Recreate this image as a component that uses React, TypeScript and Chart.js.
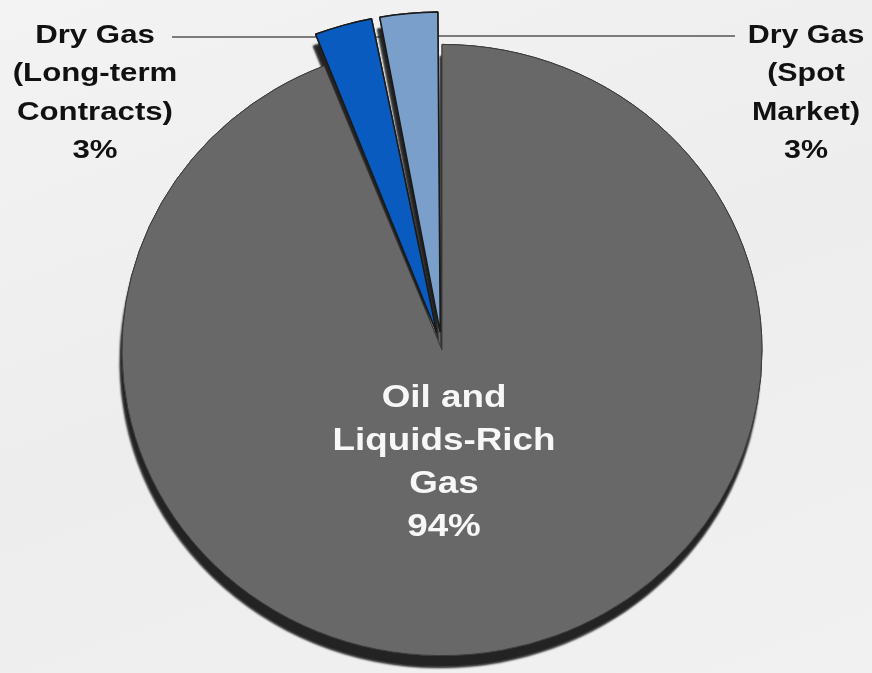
import React, { useEffect, useRef } from 'react';
import { Chart, registerables } from 'chart.js';

Chart.register(...registerables);

const categories = ['Oil and Liquids-Rich Gas', 'Dry Gas (Long-term Contracts)', 'Dry Gas (Spot Market)'];
const shares = [94, 3, 3];
const labelTexts = [
  ['Oil and', 'Liquids-Rich', 'Gas'],
  ['Dry Gas', '(Long-term', 'Contracts)'],
  ['Dry Gas', '(Spot', 'Market)'],
];
const sliceColors = ['#686868', '#0a5bbf', '#7a9fca'];
const sliceOffsets = [0, 75, 75];

const SQUASH = 0.955;

const pieDecor = {
  id: 'pieDecor',
  beforeDatasetsDraw(chart: any) {
    const ctx = chart.ctx;
    ctx.save();
    ctx.strokeStyle = '#555555';
    ctx.lineWidth = 1.6;
    ctx.beginPath();
    ctx.moveTo(172, 37);
    ctx.lineTo(400, 37);
    ctx.moveTo(420, 36);
    ctx.lineTo(735, 36);
    ctx.stroke();
    ctx.restore();

    const meta = chart.getDatasetMeta(0);
    const arcs = meta.data;
    const cx = arcs[0].x;
    const cy = arcs[0].y;
    ctx.save();
    ctx.translate(cx, cy);
    ctx.scale(1, SQUASH);
    ctx.translate(-cx, -cy);
    // depth / shadow pass
    ctx.save();
    ctx.shadowColor = 'rgba(28,28,28,0.97)';
    ctx.shadowOffsetY = 12;
    ctx.shadowOffsetX = -2;
    ctx.shadowBlur = 2;
    arcs.forEach((a: any) => a.draw(ctx, chart.chartArea));
    ctx.restore();
    // face pass
    arcs.forEach((a: any) => a.draw(ctx, chart.chartArea));
    ctx.restore();
    return false;
  },
  afterDraw(chart: any) {
    const ctx = chart.ctx;
    const drawBlock = (lines: string[], x: number, y0: number, step: number, size: number, color: string, sx: number) => {
      ctx.save();
      ctx.font = `bold ${size}px "Liberation Sans", Arial, sans-serif`;
      ctx.fillStyle = color;
      ctx.textAlign = 'center';
      ctx.textBaseline = 'middle';
      lines.forEach((t, i) => {
        ctx.save();
        ctx.translate(x, y0 + i * step);
        ctx.scale(sx, 1);
        ctx.fillText(t, 0, 0);
        ctx.restore();
      });
      ctx.restore();
    };

    drawBlock([...labelTexts[0], `${shares[0]}%`], 444, 398, 43, 32, '#f7f7f7', 1.15);
    drawBlock([...labelTexts[1], `${shares[1]}%`], 95, 36, 38.3, 26, '#111111', 1.2);
    drawBlock([...labelTexts[2], `${shares[2]}%`], 806, 36, 38.3, 26, '#111111', 1.17);
  },
};

export default function App() {
  const canvasRef = useRef<HTMLCanvasElement | null>(null);

  useEffect(() => {
    if (!canvasRef.current) return;
    const chart = new Chart(canvasRef.current, {
      type: 'pie',
      data: {
        labels: categories,
        datasets: [
          {
            data: shares,
            backgroundColor: sliceColors,
            borderColor: ['#3a3a3a', '#1a1a1a', '#1a1a1a'],
            borderWidth: [1, 1.5, 1.5],
            offset: sliceOffsets,
            radius: 320,
            clip: false,
          } as any,
        ],
      },
      options: {
        animation: false,
        responsive: true,
        maintainAspectRatio: false,
        radius: 320,
        layout: { padding: { left: 12, right: 0, top: 27, bottom: 0 } },
        plugins: {
          legend: { display: false },
          tooltip: { enabled: false },
        },
      } as any,
      plugins: [pieDecor],
    });
    return () => chart.destroy();
  }, []);

  return (
    <div
      style={{
        position: 'fixed',
        left: 0,
        top: 0,
        width: 872,
        height: 673,
        background: 'linear-gradient(160deg, #f3f3f3 0%, #ededed 50%, #f1f1f1 100%)',
      }}
    >
      <canvas ref={canvasRef} style={{ width: '100%', height: '100%' }} />
    </div>
  );
}
